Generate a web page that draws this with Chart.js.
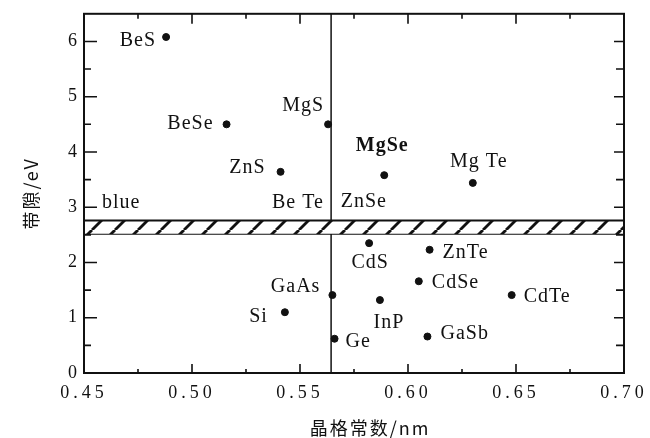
<!DOCTYPE html>
<html>
<head>
<meta charset="utf-8">
<script src="https://cdn.jsdelivr.net/npm/chart.js@4/dist/chart.umd.min.js"></script>
<style>
  html, body { margin: 0; padding: 0; background: #fff; }
  #wrap { width: 650px; height: 438px; }
</style>
</head>
<body>
<div id="wrap"><canvas id="c" width="650" height="438"></canvas></div>
<script>
// compounds, lattice constant (nm), band gap (eV)
const names = ["BeS", "BeSe", "ZnS", "MgS", "MgSe", "Mg Te", "Be Te", "ZnSe", "CdS",
               "ZnTe", "CdSe", "CdTe", "InP", "GaSb", "GaAs", "Si", "Ge"];
const lattice = [0.488, 0.516, 0.541, 0.563, 0.589, 0.630, 0.562, 0.567, 0.582,
                 0.610, 0.605, 0.648, 0.587, 0.609, 0.565, 0.543, 0.566];
const gap = [6.08, 4.50, 3.64, 4.50, 3.58, 3.44, 2.69, 2.66, 2.35,
             2.23, 1.66, 1.41, 1.32, 0.66, 1.41, 1.10, 0.62];
// blue band and the vertical guide
const blueBand = [2.52, 2.76];
const guideX = 0.5644;
const xRange = [0.45, 0.70];
const yRange = [0, 6.5];

// where each label sits relative to its dot: [dx, dy, align]
const labelPlace = [
  [-10, 4, "right"], [-13, -1, "right"], [-15, -4, "right"], [-4, -19, "right"],
  [-2, -29, "center"], [6, -21, "center"], [-2, -22, "right"], [4, -24, "left"],
  [1, 20, "center"], [13, 3, "left"], [13, 1, "left"], [12, 2, "left"],
  [9, 23, "center"], [13, -3, "left"], [-12, -8, "right"], [-17, 5, "right"], [11, 3, "left"]
];

const serif = '"Liberation Serif", "DejaVu Serif", serif';
const cjk = '"Noto Sans CJK SC", "Noto Sans", sans-serif';
const ink = "#111";

// hatch pattern for the band
function hatch() {
  const s = 23;
  const c = document.createElement("canvas");
  c.width = s; c.height = s;
  const g = c.getContext("2d");
  g.fillStyle = "#fff";
  g.fillRect(0, 0, s, s);
  g.strokeStyle = ink;
  g.lineWidth = 2.8;
  for (let k = -1; k <= 1; k++) {
    g.beginPath();
    g.moveTo(k * s, s);
    g.lineTo(k * s + s, 0);
    g.stroke();
  }
  return g.createPattern(c, "repeat");
}

const spacing = {
  id: "spacing",
  beforeDraw(chart) { chart.ctx.letterSpacing = "4px"; },
  afterDraw(chart) { chart.ctx.letterSpacing = "0px"; }
};

const frame = {
  id: "frame",
  afterDatasetsDraw(chart) {
    const { ctx, chartArea: a, scales } = chart;
    const xs = scales.x, ys = scales.y;
    ctx.save();
    ctx.strokeStyle = ink;
    ctx.lineWidth = 2;
    ctx.strokeRect(a.left, a.top, a.right - a.left, a.bottom - a.top);
    ctx.lineWidth = 1.6;
    ctx.beginPath();
    // x ticks, inward, bottom and top
    for (let v = 0; v <= 10; v++) {
      const px = xs.getPixelForValue(xRange[0] + v * 0.025);
      const major = v % 2 === 0;
      ctx.moveTo(px, a.bottom); ctx.lineTo(px, a.bottom - (major ? 9 : 4));
      ctx.moveTo(px, a.top); ctx.lineTo(px, a.top + (major ? 10 : 5));
    }
    // y ticks, inward, left and right
    for (let v = 0; v <= 12; v++) {
      const py = ys.getPixelForValue(v * 0.5);
      const major = v % 2 === 0;
      ctx.moveTo(a.left, py); ctx.lineTo(a.left + (major ? 13 : 7), py);
      ctx.moveTo(a.right, py); ctx.lineTo(a.right - (major ? 10 : 8), py);
    }
    ctx.stroke();
    ctx.restore();
  }
};

const labels = {
  id: "labels",
  afterDatasetsDraw(chart) {
    const { ctx, chartArea: a, scales } = chart;
    const meta = chart.getDatasetMeta(3);
    ctx.save();
    ctx.fillStyle = ink;
    ctx.textBaseline = "middle";
    ctx.letterSpacing = "1px";
    meta.data.forEach((pt, i) => {
      const [dx, dy, align] = labelPlace[i];
      ctx.font = (names[i] === "MgSe" ? "bold " : "") + "20px " + serif;
      ctx.textAlign = align;
      ctx.fillText(names[i], pt.x + dx, pt.y + dy);
    });
    ctx.font = "20px " + serif;
    ctx.textAlign = "left";
    ctx.fillText("blue", scales.x.getPixelForValue(xRange[0]) + 18,
                 scales.y.getPixelForValue(blueBand[1]) - 18);

    // axis titles
    ctx.font = "18px " + cjk;
    ctx.letterSpacing = "2px";
    ctx.textAlign = "center";
    ctx.fillText("晶格常数/nm", (a.left + a.right) / 2 + 16, a.bottom + 55);
    ctx.translate(31, (a.top + a.bottom) / 2);
    ctx.rotate(-Math.PI / 2);
    ctx.fillText("带隙/eV", 0, 0);
    ctx.restore();
  }
};

const pattern = hatch();
const bandLine = (y) => [{ x: xRange[0], y }, { x: xRange[1], y }];

new Chart(document.getElementById("c"), {
  type: "scatter",
  data: {
    datasets: [
      {
        type: "line", data: bandLine(blueBand[1]), borderColor: ink, borderWidth: 2,
        pointRadius: 0, fill: "+1", backgroundColor: pattern
      },
      {
        type: "line", data: bandLine(blueBand[0]), borderColor: ink, borderWidth: 2,
        pointRadius: 0, fill: false
      },
      {
        type: "line", data: [{ x: guideX, y: yRange[0] }, { x: guideX, y: yRange[1] }],
        borderColor: ink, borderWidth: 1.5, pointRadius: 0, fill: false
      },
      {
        data: lattice.map((x, i) => ({ x, y: gap[i] })),
        backgroundColor: ink, borderColor: ink, pointRadius: 3.5, pointHoverRadius: 3.5
      }
    ]
  },
  options: {
    responsive: false,
    animation: false,
    layout: { padding: { top: 10, right: 26, left: 0, bottom: 0 } },
    plugins: { legend: { display: false }, tooltip: { enabled: false } },
    scales: {
      x: {
        type: "linear", min: xRange[0], max: xRange[1],
        grid: { display: false, drawTicks: false },
        border: { display: false },
        ticks: {
          stepSize: 0.05, padding: 9, color: ink,
          font: { family: serif, size: 18 },
          callback: (v) => v.toFixed(2)
        },
        afterFit: (s) => { s.height = 65; }
      },
      y: {
        min: yRange[0], max: yRange[1],
        grid: { display: false, drawTicks: false },
        border: { display: false },
        ticks: {
          stepSize: 1, includeBounds: false, padding: 3, color: ink,
          font: { family: serif, size: 18 }
        },
        afterFit: (s) => { s.width = 84; }
      }
    }
  },
  plugins: [spacing, frame, labels]
});
</script>
</body>
</html>
